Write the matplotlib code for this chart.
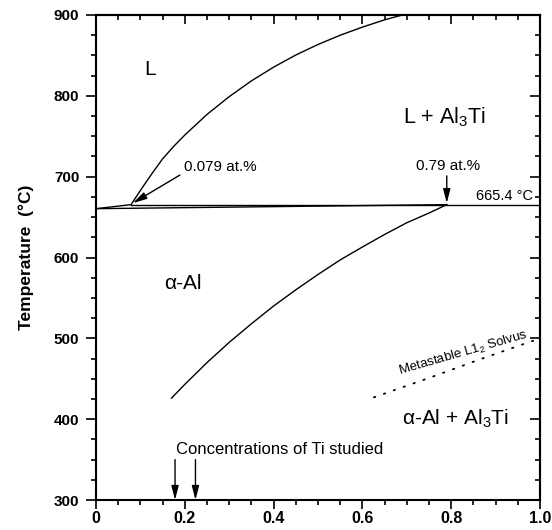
import numpy as np
import matplotlib
matplotlib.use('Agg')
import matplotlib.pyplot as plt
from matplotlib.ticker import MultipleLocator

plt.rcParams['font.family'] = ['Liberation Sans', 'DejaVu Sans']
plt.rcParams['mathtext.fontset'] = 'custom'
plt.rcParams['mathtext.rm'] = 'Liberation Sans'
plt.rcParams['mathtext.it'] = 'Liberation Sans:italic'
plt.rcParams['mathtext.bf'] = 'Liberation Sans:bold'

# liquidus (L / L + Al3Ti), at.% Ti vs temperature
liq_x = [0.0, 0.079, 0.10, 0.125, 0.15, 0.175, 0.20, 0.25, 0.30, 0.35,
         0.40, 0.45, 0.50, 0.55, 0.60, 0.65, 0.69]
liq_t = [660.4, 665.4, 683.0, 703.0, 722.0, 737.5, 751.5, 777.0, 799.0, 818.5,
         835.5, 850.5, 863.5, 875.0, 885.0, 894.0, 900.0]

# solidus (alpha-Al) up to the peritectic
sol_x = [0.0, 0.79]
sol_t = [660.4, 665.4]

# peritectic horizontal
per_x = [0.079, 1.0]
per_t = [665.4, 665.4]

# solvus alpha-Al / alpha-Al + Al3Ti
solv_x = [0.17, 0.20, 0.25, 0.30, 0.35, 0.40, 0.45, 0.50, 0.55, 0.60,
          0.65, 0.70, 0.75, 0.79]
solv_t = [426.0, 443.0, 470.0, 495.0, 518.0, 540.0, 560.0, 579.0, 597.0, 613.0,
          628.5, 643.0, 655.0, 665.4]

# metastable L1_2 solvus
meta_x = [0.626, 0.75, 0.875, 1.0]
meta_t = [427.0, 451.0, 476.0, 500.0]

# studied compositions
studied = [0.178, 0.224]

xticks = [0, 0.2, 0.4, 0.6, 0.8, 1.0]
xlabels = ['0', '0.2', '0.4', '0.6', '0.8', '1.0']
yticks = [300, 400, 500, 600, 700, 800, 900]

fig = plt.figure(figsize=(5.52, 5.30), dpi=100)
ax = fig.add_axes([96 / 552, 30 / 530, 444 / 552, 485 / 530])

lw = 1.0
ax.plot(liq_x, liq_t, color='k', lw=lw)
ax.plot(sol_x, sol_t, color='k', lw=lw)
ax.plot(per_x, per_t, color='k', lw=lw)
ax.plot(solv_x, solv_t, color='k', lw=lw)
ax.plot(meta_x, meta_t, color='k', lw=1.3, linestyle=(0, (0.8, 5)),
        dash_capstyle='round')

ax.set_xlim(0, 1.0)
ax.set_ylim(300, 900)

ax.set_xticks(xticks)
ax.set_xticklabels(xlabels, fontweight='bold')
ax.set_yticks(yticks)
ax.set_yticklabels([str(v) for v in yticks], fontweight='bold')
ax.xaxis.set_minor_locator(MultipleLocator(0.05))
ax.yaxis.set_minor_locator(MultipleLocator(25))

ax.tick_params(axis='x', which='major', direction='out', length=6.5, width=1.2,
               labelsize=11.5, pad=1.5)
ax.tick_params(axis='y', which='major', direction='out', length=7, width=1.2,
               labelsize=11, pad=5)
ax.tick_params(which='minor', direction='out', length=3.5, width=1.2)
for s in ax.spines.values():
    s.set_linewidth(1.5)

top = ax.secondary_xaxis('top')
top.xaxis.set_major_locator(MultipleLocator(0.2))
top.xaxis.set_minor_locator(MultipleLocator(0.05))
top.tick_params(which='major', direction='in', length=6.5, width=1.2, labeltop=False)
top.tick_params(which='minor', direction='in', length=3.5, width=1.2)
top.spines['top'].set_linewidth(1.5)

right = ax.secondary_yaxis('right')
right.yaxis.set_major_locator(MultipleLocator(100))
right.yaxis.set_minor_locator(MultipleLocator(25))
right.tick_params(which='major', direction='in', length=7, width=1.2, labelright=False)
right.tick_params(which='minor', direction='in', length=3.5, width=1.2)
right.spines['right'].set_linewidth(1.5)

ax.set_ylabel('Temperature  (°C)', fontsize=12.5, fontweight='bold', labelpad=14)

# region labels
ax.text(0.122, 832, 'L', fontsize=15, ha='center', va='center')
ax.text(0.784, 774, r'L + Al$_3$Ti', fontsize=15.5, ha='center', va='center')
ax.text(0.196, 568, 'α-Al', fontsize=15, ha='center', va='center')
ax.text(0.81, 400, r'α-Al + Al$_3$Ti', fontsize=15, ha='center', va='center')

ax.text(0.985, 667.5, '665.4 °C', fontsize=10.5, ha='right', va='bottom')

ax.text(0.83, 477, r'Metastable L1$_2$ Solvus', fontsize=9.5, rotation=16,
        ha='center', va='baseline', rotation_mode='anchor')

arrow = dict(arrowstyle='-|>,head_length=0.7,head_width=0.18', color='k',
             lw=1.0, shrinkA=0, shrinkB=0, mutation_scale=12)
ax.annotate('', xy=(0.083, 667.3), xytext=(0.189, 702), arrowprops=arrow)
ax.text(0.198, 712, '0.079 at.%', fontsize=11, ha='left', va='center')
ax.annotate('', xy=(0.79, 667.3), xytext=(0.79, 701), arrowprops=arrow)
ax.text(0.792, 713, '0.79 at.%', fontsize=11, ha='center', va='center')

ax.text(0.413, 362, 'Concentrations of Ti studied', fontsize=12,
        ha='center', va='center')
for c in studied:
    ax.annotate('', xy=(c, 300), xytext=(c, 350), arrowprops=arrow)

fig.savefig('out.png', dpi=100)
